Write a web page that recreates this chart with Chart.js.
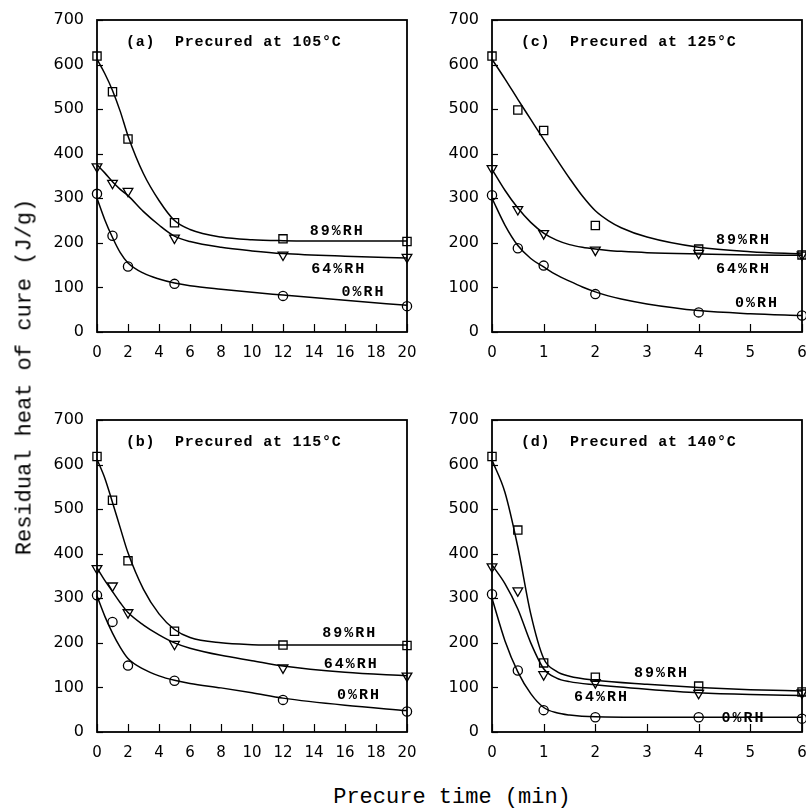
<!DOCTYPE html>
<html>
<head>
<meta charset="utf-8">
<script src="https://cdn.jsdelivr.net/npm/chart.js@4.4.0/dist/chart.umd.min.js"></script>
<style>
html, body { margin:0; padding:0; background:#fff; overflow:hidden; width:806px; height:810px; }
canvas { position:absolute; }
#ytitle { position:absolute; left:25px; top:377px; transform:translate(-50%,-50%) rotate(-90deg);
  font-family:'Liberation Mono', monospace; font-size:22px; white-space:nowrap; color:#000; }
#xtitle { position:absolute; left:452px; top:797px; transform:translate(-50%,-50%);
  font-family:'Liberation Mono', monospace; font-size:22px; white-space:nowrap; color:#000; }
</style>
</head>
<body>
<canvas id="pa" width="384" height="362" style="left:37px;top:10px"></canvas>
<canvas id="pc" width="384" height="362" style="left:432px;top:10px"></canvas>
<canvas id="pb" width="384" height="362" style="left:37px;top:410px"></canvas>
<canvas id="pd" width="384" height="362" style="left:432px;top:410px"></canvas>
<div id="ytitle">Residual heat of cure (J/g)</div>
<div id="xtitle">Precure time (min)</div>
<script>
var timeA = [0, 1, 2, 5, 12, 20]
var a89 = [619, 539, 433, 245, 209, 203]
var a64 = [371, 334, 316, 211, 173, 168]
var a0 = [310, 216, 147, 108, 81, 58]
// fitted curves
var fitTimeA = [0, 0.5, 1, 1.5, 2, 3, 4, 5, 6, 8, 10, 12, 16, 20]
var fitA89 = [612, 580, 542, 495, 440, 355, 295, 250, 230, 213, 207, 205, 204, 204]
var fitA64 = [375, 357, 337, 320, 306, 270, 240, 215, 203, 190, 182, 176, 170, 166]
var fitA0 = [300, 252, 212, 178, 155, 132, 119, 110, 104, 96, 89, 83, 71, 60]

var timeB = [0, 1, 2, 5, 12, 20]
var b89 = [618, 520, 384, 226, 195, 194]
var b64 = [367, 328, 268, 197, 144, 126]
var b0 = [307, 247, 149, 115, 72, 46]
var fitTimeB = [0, 0.5, 1, 1.5, 2, 3, 4, 5, 6, 8, 10, 12, 16, 20]
var fitB89 = [612, 570, 515, 458, 402, 320, 265, 230, 212, 200, 196, 195, 195, 195]
var fitB64 = [368, 340, 315, 290, 268, 240, 218, 200, 188, 172, 160, 148, 134, 126]
var fitB0 = [305, 260, 222, 190, 165, 141, 126, 116, 109, 99, 88, 76, 60, 48]

var timeC = [0, 0.5, 1, 2, 4, 6]
var c89 = [619, 498, 452, 239, 186, 173]
var c64 = [367, 275, 221, 184, 177, 173]
var c0 = [307, 188, 149, 85, 44, 37]
var fitTimeC = [0, 0.25, 0.5, 0.75, 1, 1.25, 1.5, 1.75, 2, 2.25, 2.5, 3, 4, 5, 6]
var fitC89 = [612, 568, 522, 477, 432, 388, 345, 305, 272, 250, 234, 213, 190, 180, 175]
var fitC64 = [365, 318, 278, 246, 222, 206, 196, 190, 186, 183, 181, 178, 175, 173, 172]
var fitC0 = [300, 240, 194, 165, 146, 128, 114, 101, 90, 81, 74, 63, 48, 41, 37]

var timeD = [0, 0.5, 1, 2, 4, 6]
var d89 = [618, 453, 155, 123, 103, 90]
var d64 = [371, 317, 129, 111, 87, 88]
var d0 = [309, 138, 49, 33, 33, 30]
var fitTimeD = [0, 0.25, 0.5, 0.75, 1, 1.25, 1.5, 2, 3, 4, 5, 6]
var fitD89 = [610, 538, 415, 265, 165, 136, 125, 116, 107, 100, 95, 92]
var fitD64 = [375, 333, 276, 200, 142, 121, 113, 106, 96, 88, 84, 82]
var fitD0 = [300, 205, 135, 86, 55, 43, 38, 34, 33, 33, 33, 33]

var rhNames = ['89%RH', '64%RH', '0%RH']
// label anchors in data units [time, heat]
var labelPosA = [[15.5, 227], [15.6, 141], [17.2, 90]]
var labelPosB = [[16.3, 221], [16.4, 153], [16.9, 83]]
var labelPosC = [[4.87, 206], [4.87, 141], [5.13, 64]]
var labelPosD = [[3.28, 132], [2.12, 79], [4.87, 31]]

function pts(xs, ys){
    return xs.map(function(x, i){ return {x:x, y:ys[i]} })
}

var framePlugin = {
    id:'frame',
    afterDraw: function(chart, args, opts){
        var ctx = chart.ctx
        var a = chart.chartArea
        var sx = chart.scales.x, sy = chart.scales.y
        ctx.save()
        ctx.strokeStyle = '#000'
        ctx.lineWidth = 1.8
        ctx.strokeRect(a.left, a.top, a.right - a.left, a.bottom - a.top)
        ctx.lineWidth = 1.2
        sx.ticks.forEach(function(t){
            var px = Math.round(sx.getPixelForValue(t.value)) + 0.5
            ctx.beginPath(); ctx.moveTo(px, a.bottom); ctx.lineTo(px, a.bottom - 8); ctx.stroke()
        })
        sy.ticks.forEach(function(t){
            var py = Math.round(sy.getPixelForValue(t.value)) + 0.5
            ctx.beginPath(); ctx.moveTo(a.left, py); ctx.lineTo(a.left + 6, py); ctx.stroke()
        })
        ctx.fillStyle = '#000'
        ctx.textBaseline = 'middle'
        ctx.textAlign = 'left'
        ctx.font = 'bold 15px "Liberation Mono"'
        ctx.letterSpacing = '0.8px'
        ctx.fillText(opts.title, a.left + 29, a.top + 22)
        ctx.letterSpacing = '2px'
        ctx.textAlign = 'center'
        opts.labels.forEach(function(p, i){
            ctx.fillText(rhNames[i], sx.getPixelForValue(p[0]), sy.getPixelForValue(p[1]))
        })
        ctx.letterSpacing = '0px'
        ctx.restore()
    }
}

function makePanel(id, title, xmax, xstep, xs, s89, s64, s0, fx, f89, f64, f0, labels){
    var marker = function(data, style, r, rot){
        return {
            data: pts(xs, data), showLine:false, clip:false,
            pointStyle: style, pointRadius: r, pointRotation: rot || 0,
            pointBorderColor:'#000', pointBackgroundColor:'rgba(0,0,0,0)', pointBorderWidth:1.3
        }
    }
    var fit = function(data){
        return {
            data: pts(fx, data), showLine:true, pointRadius:0,
            borderColor:'#000', borderWidth:1.5, cubicInterpolationMode:'monotone', clip:false
        }
    }
    return new Chart(document.getElementById(id), {
        type:'scatter',
        plugins:[framePlugin],
        data:{
            datasets:[
                marker(s89, 'rect', 5.8),
                marker(s64, 'triangle', 5.6, 180),
                marker(s0, 'circle', 4.6),
                fit(f89), fit(f64), fit(f0)
            ]
        },
        options:{
            responsive:false,
            animation:false,
            layout:{ padding:{ top:10, right:14, left:0, bottom:0 } },
            plugins:{
                legend:{ display:false },
                tooltip:{ enabled:false },
                frame:{ title:title, labels:labels }
            },
            scales:{
                x:{
                    type:'linear', min:0, max:xmax,
                    grid:{ display:false, drawTicks:false }, border:{ display:false },
                    ticks:{ stepSize:xstep, color:'#000', padding:12, maxRotation:0,
                        font:{ family:'DejaVu Sans', size:15 } },
                    afterFit: function(s){ s.height = 40; s.paddingLeft = 0; s.paddingRight = 0 }
                },
                y:{
                    min:0, max:700,
                    grid:{ display:false, drawTicks:false }, border:{ display:false },
                    ticks:{ stepSize:100, color:'#000', padding:13,
                        font:{ family:'DejaVu Sans', size:16 } },
                    afterFit: function(s){ s.width = 60; s.paddingTop = 0; s.paddingBottom = 0 }
                }
            }
        }
    })
}

makePanel('pa', '(a)  Precured at 105°C', 20, 2, timeA, a89, a64, a0, fitTimeA, fitA89, fitA64, fitA0, labelPosA)
makePanel('pb', '(b)  Precured at 115°C', 20, 2, timeB, b89, b64, b0, fitTimeB, fitB89, fitB64, fitB0, labelPosB)
makePanel('pc', '(c)  Precured at 125°C', 6, 1, timeC, c89, c64, c0, fitTimeC, fitC89, fitC64, fitC0, labelPosC)
makePanel('pd', '(d)  Precured at 140°C', 6, 1, timeD, d89, d64, d0, fitTimeD, fitD89, fitD64, fitD0, labelPosD)
</script>
</body>
</html>
